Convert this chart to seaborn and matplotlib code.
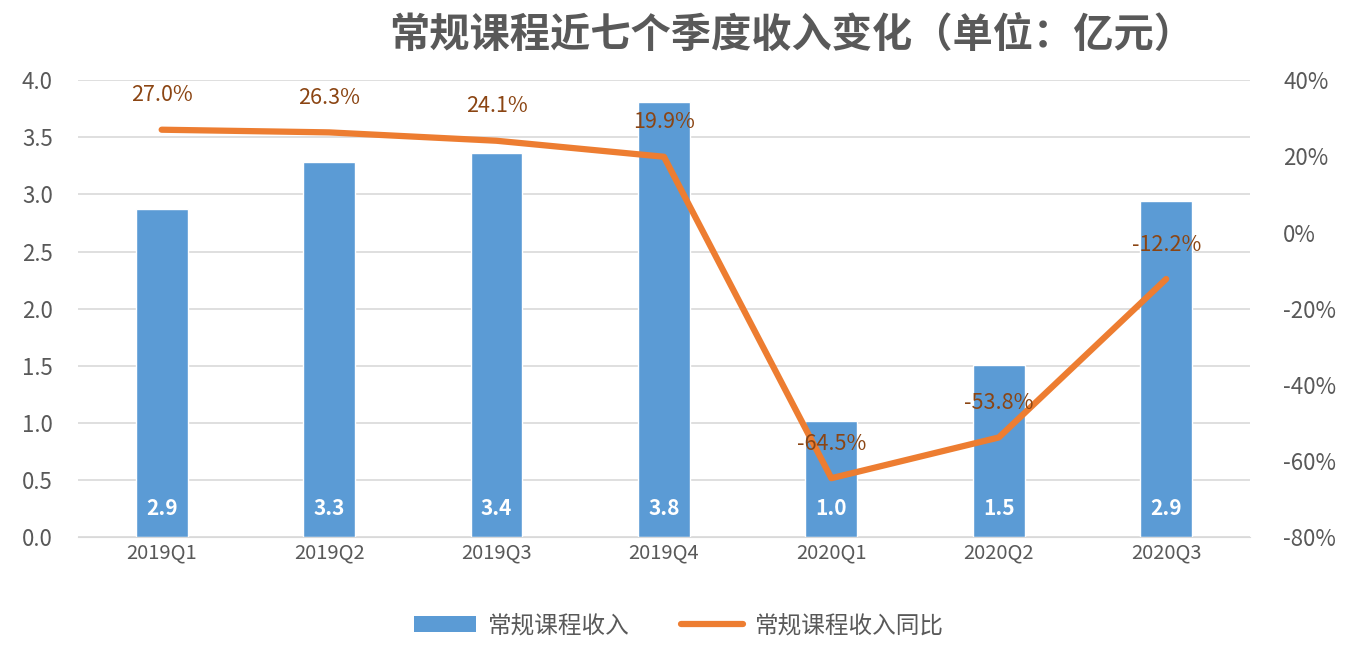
import numpy as np
import pandas as pd
import matplotlib
matplotlib.use("Agg")
import matplotlib.pyplot as plt
import seaborn as sns
from matplotlib.patches import Patch
from matplotlib.lines import Line2D

quarters = ["2019Q1", "2019Q2", "2019Q3", "2019Q4", "2020Q1", "2020Q2", "2020Q3"]
revenue = [2.87, 3.28, 3.36, 3.81, 1.02, 1.51, 2.94]
revenue_labels = ["2.9", "3.3", "3.4", "3.8", "1.0", "1.5", "2.9"]
yoy = [27.0, 26.3, 24.1, 19.9, -64.5, -53.8, -12.2]

sns.set_style("white")
plt.rcParams['font.family'] = ['Noto Sans CJK SC', 'DejaVu Sans']

bar_color = "#5B9BD5"
line_color = "#ED7D31"
text_gray = "#595959"

df = pd.DataFrame({"quarter": quarters, "revenue": revenue, "yoy": yoy})

fig = plt.figure(figsize=(13.58, 6.52), dpi=100)
ax = fig.add_axes([0.0574, 0.176, 0.863, 0.701])

sns.barplot(data=df, x="quarter", y="revenue", color=bar_color, width=0.31,
            saturation=1, ax=ax, zorder=2)
ax.set_ylim(0, 4.0)
ax.set_yticks(np.arange(0, 4.01, 0.5))
ax.set_yticklabels([f"{v:.1f}" for v in np.arange(0, 4.01, 0.5)])
ax.set_xlim(-0.5, 6.5)
ax.grid(axis="y", color="#D9D9D9", lw=1.2, zorder=0)
ax.set_xlabel("")
ax.set_ylabel("")
for s in ax.spines.values():
    s.set_visible(False)
ax.spines["bottom"].set_visible(True)
ax.spines["bottom"].set_color("#D9D9D9")
ax.tick_params(axis="y", length=0, labelsize=16, colors=text_gray, pad=18)
ax.tick_params(axis="x", length=0, labelsize=14.5, colors=text_gray, pad=4)

for i, lab in enumerate(revenue_labels):
    ax.text(i, 0.25, lab, ha="center", va="center", color="white",
            fontsize=15, fontweight="bold")

ax2 = ax.twinx()
sns.lineplot(x=np.arange(len(yoy)), y=yoy, color=line_color, lw=4.5, ax=ax2, zorder=3)
ax2.set_ylim(-80, 40)
ax2.set_yticks(np.arange(-80, 41, 20))
ax2.set_yticklabels([f"{v}%" for v in range(-80, 41, 20)])
ax2.tick_params(axis="y", length=0, labelsize=16, colors=text_gray, pad=24)
for s in ax2.spines.values():
    s.set_visible(False)

for i, v in enumerate(yoy):
    ax2.text(i, v + 9, f"{v:.1f}%", ha="center", va="center",
             color="#8B4513", fontsize=15.5)

fig.text(0.583, 0.945, "常规课程近七个季度收入变化（单位：亿元）", ha="center", va="center",
         fontsize=29, fontweight="semibold", color=text_gray)

handles = [Patch(facecolor=bar_color, edgecolor="none"),
           Line2D([0], [0], color=line_color, lw=4.5, solid_capstyle="round")]
fig.legend(handles, ["常规课程收入", "常规课程收入同比"], loc="center",
           bbox_to_anchor=(0.5, 0.04), ncol=2, frameon=False, fontsize=17,
           labelcolor=text_gray, handlelength=2.6, columnspacing=2.2, handletextpad=0.5)

fig.savefig("out.png", dpi=100)
